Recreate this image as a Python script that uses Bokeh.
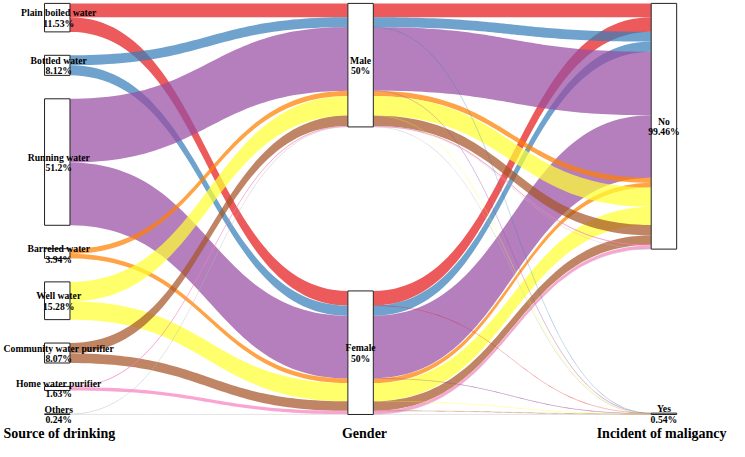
import numpy as np
from bokeh.plotting import figure
from bokeh.models import Range1d
from bokeh.embed import file_html
from bokeh.resources import INLINE
from bokeh.core.properties import value

# ---------------- data ----------------
sources = ["Plain boiled water", "Bottled water", "Running water", "Barreled water",
           "Well water", "Community water purifier", "Home water purifier", "Others"]
source_pct = ["11.53%", "8.12%", "51.2%", "3.94%", "15.28%", "8.07%", "1.63%", "0.24%"]
genders = ["Male", "Female"]
gender_pct = ["50%", "50%"]
outcomes = ["No", "Yes"]
outcome_pct = ["99.46%", "0.54%"]
axis_titles = ["Source of drinking", "Gender", "Incident of maligancy"]
colors = ["#E41A1C", "#377EB8", "#984EA3", "#FF7F00",
          "#FFFF33", "#A65628", "#F781BF", "#BBBBBB"]

# percentage of all respondents, per source (same order as `sources`)
male_no = [5.60, 3.97, 25.70, 2.10, 7.86, 4.20, 0.30, 0.04]
male_yes = [0.00, 0.03, 0.10, 0.00, 0.04, 0.00, 0.00, 0.06]
female_no = [5.90, 4.12, 25.28, 1.84, 7.33, 3.82, 1.33, 0.08]
female_yes = [0.03, 0.00, 0.12, 0.00, 0.05, 0.05, 0.00, 0.06]

# ---------------- layout (data units == reference-image px) ----------------
X_AX = [45.0, 355.0, 665.0]
NODE_W = 26.0
Y_TOP, Y_BOT = 3.0, 429.0
K = 2.56  # px per percent

vals = {(0, 0): male_no, (0, 1): male_yes, (1, 0): female_no, (1, 1): female_yes}
alluvia = []
for s in range(len(sources)):
    for g in range(2):
        for o in range(2):
            v = vals[(g, o)][s]
            if v > 0:
                alluvia.append(dict(s=s, g=g, o=o, v=v))

def stack(n_strata, key_stratum, key_order):
    totals = np.zeros(n_strata)
    for a in alluvia:
        totals[a[key_stratum]] += a["v"]
    gap = (Y_BOT - Y_TOP - K * totals.sum()) / (n_strata - 1)
    starts = []
    y = Y_TOP
    for tt in totals:
        starts.append(y)
        y += K * tt + gap
    pos = {}
    for st in range(n_strata):
        members = sorted([i for i, a in enumerate(alluvia) if a[key_stratum] == st],
                         key=lambda i: key_order(alluvia[i]))
        y = starts[st]
        for i in members:
            h = K * alluvia[i]["v"]
            pos[i] = (y, y + h)
            y += h
    nodes = [(starts[st], starts[st] + K * totals[st]) for st in range(n_strata)]
    return pos, nodes

pos0, nodes0 = stack(len(sources), "s", lambda a: (a["g"], a["o"]))
pos1, nodes1 = stack(2, "g", lambda a: (a["s"], a["o"]))
pos2, nodes2 = stack(2, "o", lambda a: (a["s"], a["g"]))

t = np.linspace(0, 1, 60)
def bez(x0, x1, y0, y1):
    xm = (x0 + x1) / 2
    b0 = (1 - t) ** 3
    b1 = 3 * (1 - t) ** 2 * t
    b2 = 3 * (1 - t) * t ** 2
    b3 = t ** 3
    xs = b0 * x0 + (b1 + b2) * xm + b3 * x1
    ys = (b0 + b1) * y0 + (b2 + b3) * y1
    return xs, ys

def ribbon(x0, x1, a_top, a_bot, b_top, b_bot):
    xt, yt = bez(x0, x1, a_top, b_top)
    xb, yb = bez(x0, x1, a_bot, b_bot)
    xs = np.concatenate([xt, xb[::-1]])
    ys = np.concatenate([yt, yb[::-1]])
    xc, yc = bez(x0, x1, (a_top + a_bot) / 2, (b_top + b_bot) / 2)
    return xs, ys, xc, yc

# ---------------- figure ----------------
p = figure(width=729, height=441, output_backend="svg", toolbar_location=None,
           x_range=Range1d(0, 745), y_range=Range1d(457, 0), min_border=0)
p.axis.visible = False
p.grid.visible = False
p.outline_line_color = None
p.background_fill_color = "white"

pxs, pys, pcol = [], [], []
lxs, lys, lcol, lw = [], [], [], []

# segment 1: source -> gender, aggregated per (source, gender)
for s in range(len(sources)):
    for g in range(2):
        idx = [i for i, a in enumerate(alluvia) if a["s"] == s and a["g"] == g]
        if not idx:
            continue
        a_top = min(pos0[i][0] for i in idx); a_bot = max(pos0[i][1] for i in idx)
        b_top = min(pos1[i][0] for i in idx); b_bot = max(pos1[i][1] for i in idx)
        xs, ys, xc, yc = ribbon(X_AX[0] + NODE_W, X_AX[1], a_top, a_bot, b_top, b_bot)
        pxs.append(list(xs)); pys.append(list(ys)); pcol.append(colors[s])
        if a_bot - a_top < 1.5:
            lxs.append(list(xc)); lys.append(list(yc)); lcol.append(colors[s])
            lw.append(max(a_bot - a_top, 0.7))

# segment 2: gender -> outcome, per alluvium
for i, a in enumerate(alluvia):
    xs, ys, xc, yc = ribbon(X_AX[1] + NODE_W, X_AX[2], pos1[i][0], pos1[i][1],
                            pos2[i][0], pos2[i][1])
    pxs.append(list(xs)); pys.append(list(ys)); pcol.append(colors[a["s"]])
    h = pos1[i][1] - pos1[i][0]
    if h < 1.5:
        lxs.append(list(xc)); lys.append(list(yc)); lcol.append(colors[a["s"]])
        lw.append(max(h, 0.7))

p.patches(pxs, pys, fill_color=pcol, fill_alpha=0.72, line_color=None)
if lxs:
    p.multi_line(lxs, lys, line_color=lcol, line_width=lw, line_alpha=0.4)

# nodes
all_nodes = [(0, nodes0, sources, source_pct), (1, nodes1, genders, gender_pct),
             (2, nodes2, outcomes, outcome_pct)]
for ax, nodes, names, pcts in all_nodes:
    left = [X_AX[ax]] * len(nodes)
    right = [X_AX[ax] + NODE_W] * len(nodes)
    tops = [n[0] for n in nodes]
    bots = [n[1] for n in nodes]
    p.quad(left=left, right=right, top=tops, bottom=bots, fill_color="white",
           line_color="#222222", line_width=1)

for ax, nodes, names, pcts in all_nodes:
    cx = [X_AX[ax] + NODE_W / 2 + (1.5 if ax == 0 else 0)] * len(nodes)
    cy = [(n[0] + n[1]) / 2 for n in nodes]
    common = dict(text_font=value("Liberation Serif"), text_font_style="bold",
                  text_font_size="9.7px", text_align="center", text_baseline="middle",
                  text_color="black")
    p.text(cx, cy, text=names, y_offset=-5, **common)
    p.text(cx, cy, text=pcts, y_offset=5.5, **common)

title_common = dict(text_font=value("Liberation Serif"), text_font_style="bold",
                    text_font_size="14px", text_baseline="middle", text_color="black")
p.text([3], [449], text=[axis_titles[0]], text_align="left", **title_common)
p.text([372], [449], text=[axis_titles[1]], text_align="center", **title_common)
p.text([742], [449], text=[axis_titles[2]], text_align="right", **title_common)

open("out.html", "w").write(file_html(p, INLINE))
